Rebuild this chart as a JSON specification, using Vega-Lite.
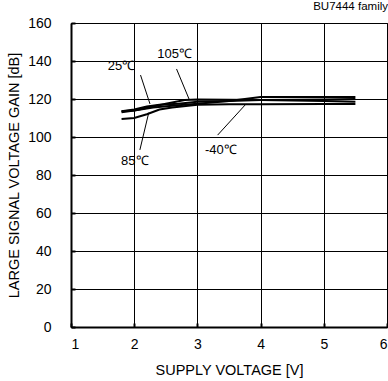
{
  "$schema": "https://vega.github.io/schema/vega-lite/v6.json",
  "width": 316,
  "height": 304,
  "autosize": {"type": "none"},
  "padding": {"left": 71, "top": 23, "right": 1, "bottom": 54},
  "background": "white",
  "config": {
    "font": "Liberation Sans",
    "view": {"stroke": "black", "strokeWidth": 1},
    "axis": {
      "domainColor": "black", "domainWidth": 2,
      "gridColor": "black", "gridOpacity": 1, "gridWidth": 1,
      "tickColor": "black", "tickWidth": 2, "tickSize": -4,
      "labelOverlap": false,
      "labelFont": "Liberation Sans", "labelFontSize": 14, "labelColor": "black",
      "titleFont": "Liberation Sans", "titleFontSize": 14.5, "titleFontWeight": "normal", "titleColor": "black"
    }
  },
  "title": {"text": "BU7444 family", "anchor": "end", "fontSize": 11.5, "fontWeight": "normal", "font": "Liberation Sans", "color": "black", "offset": 4},
  "datasets": {
    "curves": [
      {"temp": "-40", "v": 1.8, "gain": 113.5},
      {"temp": "-40", "v": 2.0, "gain": 114.0},
      {"temp": "-40", "v": 2.3, "gain": 115.5},
      {"temp": "-40", "v": 2.6, "gain": 116.5},
      {"temp": "-40", "v": 3.0, "gain": 117.5},
      {"temp": "-40", "v": 3.5, "gain": 119.0},
      {"temp": "-40", "v": 4.0, "gain": 121.0},
      {"temp": "-40", "v": 4.5, "gain": 121.0},
      {"temp": "-40", "v": 5.0, "gain": 121.0},
      {"temp": "-40", "v": 5.5, "gain": 121.0},
      {"temp": "25", "v": 1.8, "gain": 113.5},
      {"temp": "25", "v": 2.0, "gain": 114.5},
      {"temp": "25", "v": 2.2, "gain": 116.0},
      {"temp": "25", "v": 2.4, "gain": 117.0},
      {"temp": "25", "v": 2.7, "gain": 117.5},
      {"temp": "25", "v": 3.0, "gain": 118.5},
      {"temp": "25", "v": 3.5, "gain": 119.0},
      {"temp": "25", "v": 4.0, "gain": 119.5},
      {"temp": "25", "v": 5.0, "gain": 119.8},
      {"temp": "25", "v": 5.5, "gain": 120.0},
      {"temp": "105", "v": 1.8, "gain": 113.0},
      {"temp": "105", "v": 2.0, "gain": 114.0},
      {"temp": "105", "v": 2.3, "gain": 116.0},
      {"temp": "105", "v": 2.5, "gain": 117.5},
      {"temp": "105", "v": 2.8, "gain": 119.5},
      {"temp": "105", "v": 3.0, "gain": 119.8},
      {"temp": "105", "v": 4.0, "gain": 119.5},
      {"temp": "105", "v": 5.0, "gain": 119.0},
      {"temp": "105", "v": 5.5, "gain": 118.6},
      {"temp": "85", "v": 1.8, "gain": 109.5},
      {"temp": "85", "v": 2.0, "gain": 110.0},
      {"temp": "85", "v": 2.2, "gain": 112.0},
      {"temp": "85", "v": 2.4, "gain": 114.5},
      {"temp": "85", "v": 2.6, "gain": 115.5},
      {"temp": "85", "v": 3.0, "gain": 117.0},
      {"temp": "85", "v": 3.5, "gain": 117.3},
      {"temp": "85", "v": 4.0, "gain": 117.3},
      {"temp": "85", "v": 5.0, "gain": 117.4},
      {"temp": "85", "v": 5.5, "gain": 117.4}
    ],
    "leaders": [
      {"v": 2.10, "gain": 132.6, "v2": 2.25, "gain2": 117.4},
      {"v": 2.67, "gain": 135.8, "v2": 2.87, "gain2": 119.8},
      {"v": 2.09, "gain": 93.2, "v2": 2.23, "gain2": 112.8},
      {"v": 3.32, "gain": 101.0, "v2": 3.77, "gain2": 117.4}
    ],
    "labels": [
      {"label": "25℃", "v": 1.80, "gain": 137.5},
      {"label": "105℃", "v": 2.64, "gain": 143.5},
      {"label": "85℃", "v": 2.01, "gain": 87.5},
      {"label": "-40℃", "v": 3.37, "gain": 93.2}
    ]
  },
  "encoding": {
    "x": {"field": "v", "type": "quantitative", "scale": {"domain": [1, 6], "nice": false},
      "axis": {"values": [1, 2, 3, 4, 5, 6], "format": "d", "title": "SUPPLY VOLTAGE [V]", "labelPadding": 14, "titlePadding": 12}},
    "y": {"field": "gain", "type": "quantitative", "scale": {"domain": [0, 160], "nice": false},
      "axis": {"values": [0, 20, 40, 60, 80, 100, 120, 140, 160], "format": "d", "title": "LARGE SIGNAL VOLTAGE GAIN [dB]", "labelPadding": 24, "titlePadding": 6}}
  },
  "layer": [
    {
      "data": {"name": "curves"},
      "mark": {"type": "line", "color": "black", "strokeWidth": 2},
      "encoding": {
        "detail": {"field": "temp", "type": "nominal"}
      }
    },
    {
      "data": {"name": "leaders"},
      "mark": {"type": "rule", "color": "black", "strokeWidth": 1},
      "encoding": {
        "x2": {"field": "v2"},
        "y2": {"field": "gain2"}
      }
    },
    {
      "data": {"name": "labels"},
      "mark": {"type": "text", "color": "black", "fontSize": 13, "font": "Liberation Sans"},
      "encoding": {
        "text": {"field": "label"}
      }
    }
  ]
}
